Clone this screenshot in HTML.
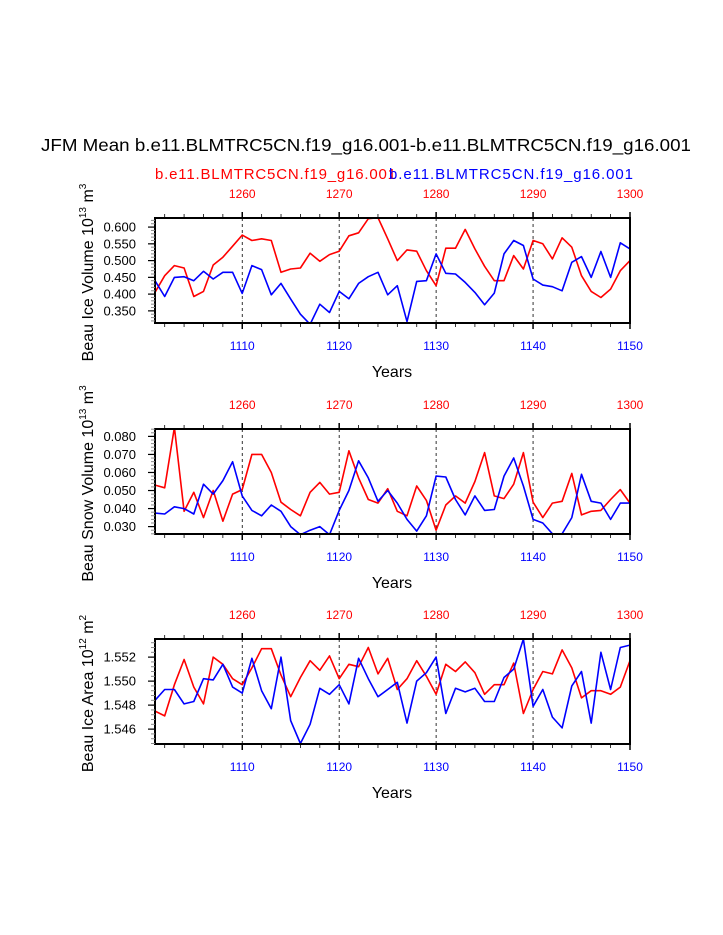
<!DOCTYPE html>
<html><head><meta charset="utf-8"><style>
html,body{margin:0;padding:0;background:#fff;}
svg{display:block;font-family:"Liberation Sans",sans-serif;}
</style></head><body>
<svg id="chart" width="723" height="935" xmlns="http://www.w3.org/2000/svg">
<text x="41" y="151" font-size="17.5" textLength="650" lengthAdjust="spacingAndGlyphs">JFM Mean b.e11.BLMTRC5CN.f19_g16.001-b.e11.BLMTRC5CN.f19_g16.001</text>
<text x="155" y="179" font-size="15" fill="#f00" textLength="241">b.e11.BLMTRC5CN.f19_g16.001</text>
<text x="389" y="179" font-size="15" fill="#00f" textLength="244">b.e11.BLMTRC5CN.f19_g16.001</text>
</svg>
<script>
const years = [];
for (let y = 1101; y <= 1150; y++) years.push(y);
const iceVolRed = [0.405,0.455,0.485,0.478,0.393,0.408,0.487,0.51,0.543,0.576,0.56,0.565,0.56,0.465,0.475,0.478,0.522,0.498,0.518,0.528,0.574,0.583,0.625,0.628,0.565,0.5,0.532,0.528,0.47,0.425,0.537,0.537,0.593,0.535,0.483,0.44,0.44,0.515,0.475,0.56,0.55,0.505,0.568,0.54,0.455,0.408,0.39,0.415,0.47,0.5];
const iceVolBlue = [0.44,0.393,0.45,0.452,0.44,0.468,0.445,0.465,0.465,0.402,0.485,0.473,0.398,0.432,0.385,0.34,0.31,0.37,0.345,0.408,0.386,0.432,0.452,0.465,0.398,0.425,0.318,0.438,0.44,0.52,0.462,0.46,0.435,0.405,0.368,0.403,0.52,0.56,0.545,0.445,0.427,0.422,0.41,0.495,0.512,0.45,0.527,0.45,0.553,0.535];
const snowRed = [0.053,0.0515,0.085,0.0385,0.049,0.035,0.05,0.033,0.048,0.0505,0.07,0.07,0.06,0.0435,0.0395,0.036,0.049,0.0545,0.048,0.049,0.072,0.057,0.045,0.043,0.051,0.0385,0.036,0.0525,0.0445,0.028,0.042,0.047,0.043,0.055,0.071,0.047,0.0455,0.0535,0.071,0.0435,0.035,0.043,0.044,0.0595,0.0365,0.0385,0.039,0.045,0.0505,0.043];
const snowBlue = [0.0375,0.037,0.041,0.04,0.037,0.0535,0.048,0.0555,0.066,0.047,0.039,0.036,0.042,0.0385,0.03,0.0255,0.028,0.03,0.0255,0.039,0.05,0.0665,0.057,0.044,0.05,0.043,0.034,0.0275,0.036,0.058,0.0575,0.045,0.0365,0.047,0.039,0.0395,0.058,0.068,0.0525,0.034,0.032,0.026,0.026,0.035,0.059,0.044,0.043,0.034,0.043,0.043];
const areaRed = [1.5475,1.5471,1.5497,1.5518,1.5495,1.5481,1.552,1.5514,1.5502,1.5497,1.5511,1.5527,1.5527,1.5505,1.5487,1.5503,1.5517,1.5509,1.5521,1.5502,1.5514,1.5512,1.5528,1.5506,1.5519,1.5493,1.5502,1.5517,1.5504,1.5489,1.5514,1.5508,1.5516,1.5507,1.5489,1.5497,1.5497,1.5515,1.5473,1.5493,1.5508,1.5506,1.5526,1.5511,1.5486,1.5492,1.5492,1.5489,1.5495,1.5517];
const areaBlue = [1.5484,1.5493,1.5493,1.5481,1.5483,1.5502,1.5501,1.5514,1.5495,1.549,1.5519,1.5492,1.5477,1.552,1.5467,1.5448,1.5464,1.5494,1.5489,1.5497,1.5481,1.5519,1.5502,1.5487,1.5493,1.5499,1.5465,1.55,1.5507,1.552,1.5473,1.5494,1.5491,1.5494,1.5483,1.5483,1.5503,1.551,1.5535,1.5479,1.5493,1.547,1.5461,1.5496,1.5508,1.5465,1.5524,1.5493,1.5528,1.553];
const bottomTicks = [1110,1120,1130,1140,1150];
const topTicks = [1260,1270,1280,1290,1300];
const volTicks = [0.35,0.40,0.45,0.50,0.55,0.60];
const snowTicks = [0.03,0.04,0.05,0.06,0.07,0.08];
const areaTicks = [1.546,1.548,1.550,1.552];

const NS = "http://www.w3.org/2000/svg";
const svg = document.getElementById('chart');
const X0 = 155, X1 = 630;
function xs(yr){ return X0 + (yr - 1101) * (X1 - X0) / 49; }
function mk(tag, attrs, parent){ const e = document.createElementNS(NS, tag); for (const k in attrs) e.setAttribute(k, attrs[k]); (parent||svg).appendChild(e); return e; }

const panels = [
 {top:218, ymin:0.3138, ymax:0.6271, red:iceVolRed, blue:iceVolBlue, ticks:volTicks, dec:3, minor:0.01, name:'ice-volume', title:['Beau Ice Volume 10','13',' m','3']},
 {top:429, ymin:0.0259, ymax:0.0841, red:snowRed, blue:snowBlue, ticks:snowTicks, dec:3, minor:0.002, name:'snow-volume', title:['Beau Snow Volume 10','13',' m','3']},
 {top:639, ymin:1.54476, ymax:1.55351, red:areaRed, blue:areaBlue, ticks:areaTicks, dec:3, minor:0.0004, name:'ice-area', title:['Beau Ice Area 10','12',' m','2']}
];
const H = 105;
panels.forEach(p => {
  const g = mk('g', {});
  
  
  const ys = v => p.top + H - (v - p.ymin) / (p.ymax - p.ymin) * H;
  [1110,1120,1130,1140].forEach(yr => {
    const l = mk('line', {x1:xs(yr), x2:xs(yr), y1:p.top, y2:p.top+H, stroke:'#000', 'stroke-width':0.8, 'stroke-dasharray':'3,3'}, g);
    
    
  });
  const cid = 'clip-' + p.name;
  const cp = mk('clipPath', {id:cid}, g);
  mk('rect', {x:X0, y:p.top, width:X1-X0, height:H}, cp);
  [['red', p.red, '#f00'], ['blue', p.blue, '#00f']].forEach(([nm, arr, col]) => {
    const pts = arr.map((v,i) => xs(years[i]).toFixed(1) + ',' + ys(v).toFixed(1)).join(' ');
    const pl = mk('polyline', {points:pts, fill:'none', stroke:col, 'stroke-width':1.6, 'stroke-linejoin':'round', 'clip-path':'url(#'+cid+')'}, g);
    
    
  });
  const fr = mk('rect', {x:X0, y:p.top, width:X1-X0, height:H, fill:'none', stroke:'#000', 'stroke-width':2}, g);
  
  
  for (let yr = 1102; yr <= 1150; yr += 2) {
    const major = yr % 10 === 0;
    const len = major ? 6 : 4;
    mk('line', {x1:xs(yr), x2:xs(yr), y1:p.top+H, y2:p.top+H+len, stroke:'#000', 'stroke-width': major?1.5:0.8}, g);
    mk('line', {x1:xs(yr), x2:xs(yr), y1:p.top, y2:p.top-len, stroke:'#000', 'stroke-width': major?1.5:0.8}, g);
  }
  bottomTicks.forEach(yr => {
    const t = mk('text', {x:xs(yr), y:p.top+H+27, 'font-size':12, fill:'#00f', 'text-anchor':'middle'}, g);
    t.textContent = yr;
    
    
  });
  topTicks.forEach(yr => {
    const t = mk('text', {x:xs(yr - 150), y:p.top-20, 'font-size':12, fill:'#f00', 'text-anchor':'middle'}, g);
    t.textContent = yr;
    
    
  });
  const xt = mk('text', {x:392, y:p.top+H+54, 'font-size':16, 'text-anchor':'middle'}, g);
  xt.textContent = 'Years';
  
  
  const start = Math.ceil(p.ymin / p.minor) * p.minor;
  for (let v = start; v <= p.ymax; v += p.minor) {
    const y = ys(v);
    mk('line', {x1:X0, x2:X0-4, y1:y, y2:y, stroke:'#888', 'stroke-width':1}, g);
  }
  p.ticks.forEach(v => {
    const y = ys(v);
    mk('line', {x1:X0, x2:X0-7, y1:y, y2:y, stroke:'#000', 'stroke-width':1.2}, g);
    const t = mk('text', {x:X0-19, y:y+4.5, 'font-size':13, 'text-anchor':'end'}, g);
    t.textContent = v.toFixed(p.dec);
    
    
  });
  const cy = p.top + H/2 + 2;
  const yt = mk('text', {x:0, y:0, 'font-size':16, 'text-anchor':'middle', transform:'translate(93,'+cy+') rotate(-90)'}, g);
  
  
  p.title.forEach((s, i) => {
    const ts = mk('tspan', {}, yt);
    if (i % 2 === 1) { ts.setAttribute('font-size', 10); ts.setAttribute('dy', -7); }
    else if (i > 0) { ts.setAttribute('dy', 7); }
    ts.textContent = s;
  });
});
</script>
</body></html>
